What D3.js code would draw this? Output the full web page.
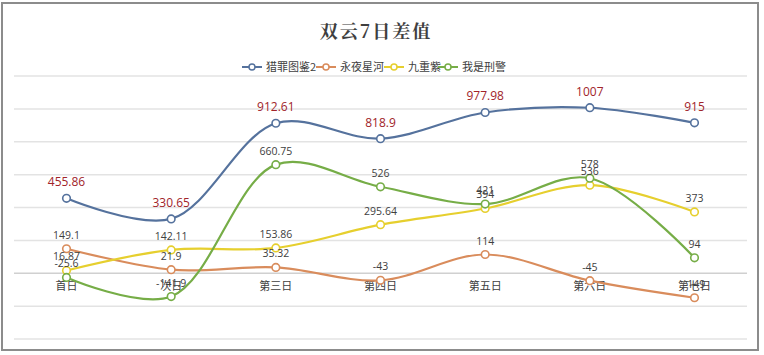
<!DOCTYPE html>
<html><head><meta charset="utf-8">
<script src="https://cdn.jsdelivr.net/npm/d3@7/dist/d3.min.js"></script>
<style>body{margin:0;background:#fff}svg{display:block}</style>
</head><body><svg id="c" width="764" height="355"></svg>
<script>
const title = "双云7日差值";
const categories = ["首日","次日","第三日","第四日","第五日","第六日","第七日"];
const seriesNames = ["猎罪图鉴2","永夜星河","九重紫","我是刑警"];
const s1 = [455.86,330.65,912.61,818.9,977.98,1007,915];
const s2 = [149.1,21.9,35.32,-43,114,-45,-149];
const s3 = [16.87,142.11,153.86,295.64,394,536,373];
const s4 = [-25.6,-141.9,660.75,526,421,578,94];
const s1Labels = ["455.86","330.65","912.61","818.9","977.98","1007","915"];
const s2Labels = ["149.1","21.9","35.32","-43","114","-45","-149"];
const s3Labels = ["16.87","142.11","153.86","295.64","394","536","373"];
const s4Labels = ["-25.6","-141.9","660.75","526","421","578","94"];
const yTicks = [-400,-200,0,200,400,600,800,1000,1200];
const colors = ["#55729d","#d98c5c","#e6cf2e","#76ad47"];

const svg = d3.select("#c");
const font = "'Noto Sans CJK SC','Noto Sans',sans-serif";
svg.append("rect").attr("x",2).attr("y",3).attr("width",756).attr("height",347)
  .attr("fill","#fff").attr("stroke","#8c8c8c").attr("stroke-width",2);

const x = d3.scalePoint().domain(categories).range([66.5,694.5]);
const y = d3.scaleLinear().domain([-400,1200]).range([339,76]);

svg.append("g").selectAll("line").data(yTicks).join("line")
  .attr("x1",14).attr("x2",747).attr("y1",d=>y(d)).attr("y2",d=>y(d))
  .attr("stroke",d=>d===0?"#d0d0d0":"#e3e3e3").attr("stroke-width",1.5);

svg.append("text").attr("x",376).attr("y",38).attr("text-anchor","middle")
  .attr("font-family","'Noto Serif CJK SC','Noto Sans CJK SC',serif").attr("font-weight","bold")
  .attr("font-size",18).attr("fill","#3f3f3f").attr("letter-spacing",2).text(title);

// legend
const legX = [242,316,384,438];
seriesNames.forEach((n,i)=>{
  const g = svg.append("g");
  g.append("line").attr("x1",legX[i]).attr("x2",legX[i]+20).attr("y1",67).attr("y2",67)
    .attr("stroke",colors[i]).attr("stroke-width",2);
  g.append("circle").attr("cx",legX[i]+10).attr("cy",67).attr("r",3)
    .attr("fill","#fff").attr("stroke",colors[i]).attr("stroke-width",1.5);
  g.append("text").attr("x",legX[i]+24).attr("y",71).attr("font-family",font)
    .attr("font-size",11).attr("fill","#404040").text(n);
});

// category labels
svg.append("g").selectAll("text").data(categories).join("text")
  .attr("x",d=>x(d)).attr("y",290).attr("text-anchor","middle")
  .attr("font-family",font).attr("font-size",11).attr("fill","#404040").text(d=>d);

const all = [s1,s2,s3,s4];
const labels = [s1Labels,s2Labels,s3Labels,s4Labels];
const line = d3.line().x((d,i)=>x(categories[i])).y(d=>y(d)).curve(d3.curveCatmullRom.alpha(0.5));
const order = [1,2,3,0];
order.forEach(k=>{
  svg.append("path").attr("d",line(all[k])).attr("fill","none")
    .attr("stroke",colors[k]).attr("stroke-width",2.2);
});
order.forEach(k=>{
  svg.append("g").selectAll("circle").data(all[k]).join("circle")
    .attr("cx",(d,i)=>x(categories[i])).attr("cy",d=>y(d)).attr("r",3.8)
    .attr("fill","#fff").attr("stroke",colors[k]).attr("stroke-width",1.6);
});
order.forEach(k=>{
  svg.append("g").selectAll("text").data(all[k]).join("text")
    .attr("x",(d,i)=>x(categories[i])).attr("y",d=>y(d)-(k===0?12:10))
    .attr("text-anchor","middle").attr("font-family","'Open Sans','Noto Sans',sans-serif")
    .attr("font-size",k===0?12:10.5).attr("fill",k===0?"#a1242a":"#404040")
    .text((d,i)=>labels[k][i]);
});
</script></body></html>
